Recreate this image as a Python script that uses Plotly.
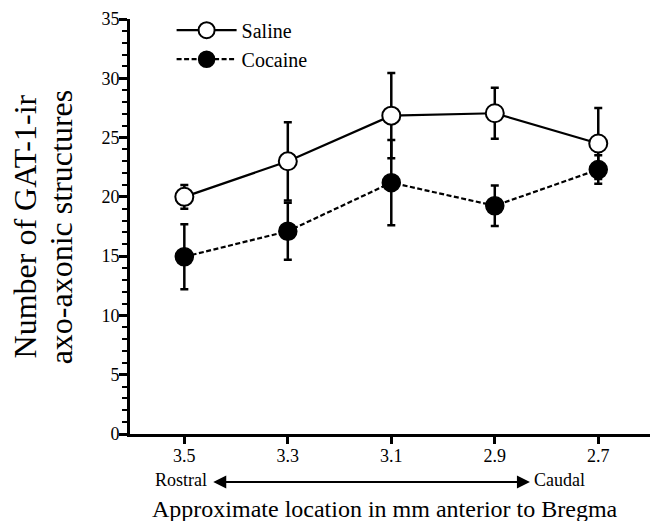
import plotly.graph_objects as go

locations = [3.5, 3.3, 3.1, 2.9, 2.7]
tick_labels = ["3.5", "3.3", "3.1", "2.9", "2.7"]
saline_mean = [20.0, 23.0, 26.85, 27.05, 24.5]
saline_err = [1.0, 3.3, 3.6, 2.15, 3.0]
cocaine_mean = [14.95, 17.1, 21.2, 19.25, 22.3]
cocaine_err = [2.75, 2.4, 3.6, 1.7, 1.2]
y_title_lines = ["Number of GAT-1-ir", "axo-axonic structures"]
x_title = "Approximate location in mm anterior to Bregma"

FONT = "Liberation Serif"

fig = go.Figure()
fig.add_trace(go.Scatter(
    x=locations, y=cocaine_mean, name="Cocaine", mode="lines+markers",
    line=dict(color="black", width=2.2, dash="5px,2.5px"),
    marker=dict(symbol="circle", size=18, color="black", line=dict(color="black", width=1.5)),
    error_y=dict(type="data", array=cocaine_err, visible=True, color="black", thickness=2.5, width=4),
    legendrank=2,
))
fig.add_trace(go.Scatter(
    x=locations, y=saline_mean, name="Saline", mode="lines+markers",
    line=dict(color="black", width=2.2),
    marker=dict(symbol="circle", size=18, color="white", line=dict(color="black", width=2)),
    error_y=dict(type="data", array=saline_err, visible=True, color="black", thickness=2.5, width=4),
    legendrank=1,
))

fig.update_layout(
    width=653, height=521,
    margin=dict(l=130, r=3, t=19, b=87),
    paper_bgcolor="white", plot_bgcolor="white",
    font=dict(family=FONT, color="black"),
    showlegend=True,
    legend=dict(x=0.08, y=1.02, xanchor="left", yanchor="top",
                font=dict(size=20, family=FONT), bgcolor="rgba(0,0,0,0)",
                itemwidth=60, tracegroupgap=0),
    xaxis=dict(range=[3.605, 2.6], tickvals=locations, ticktext=tick_labels,
               showline=True, linecolor="black", linewidth=3,
               ticks="outside", ticklen=7, tickwidth=2.5, tickcolor="black",
               ticklabelstandoff=-4,
               showgrid=False, zeroline=False, automargin=False,
               tickfont=dict(size=18, family=FONT)),
    yaxis=dict(range=[0, 35], tickvals=[0, 5, 10, 15, 20, 25, 30, 35],
               showline=True, linecolor="black", linewidth=3,
               ticks="outside", ticklen=8, tickwidth=2.5, tickcolor="black",
               ticklabelstandoff=-4,
               minor=dict(dtick=1, ticks="outside", ticklen=5, tickwidth=2, tickcolor="black"),
               showgrid=False, zeroline=False, automargin=False,
               tickfont=dict(size=18, family=FONT)),
)

# y-axis title (two lines)
for xp, line in zip([-0.202, -0.133], y_title_lines):
    fig.add_annotation(x=xp, y=0.5, xref="paper", yref="paper", text=line,
                       textangle=-90, showarrow=False, xanchor="center", yanchor="middle",
                       font=dict(size=32, family=FONT))

# x-axis title
fig.add_annotation(x=0.5, y=-0.181, xref="paper", yref="paper", text=x_title,
                   showarrow=False, xanchor="center", yanchor="middle",
                   xshift=-5, font=dict(size=24, family=FONT))

# Rostral <-> Caudal arrow
fig.add_annotation(x=2.832, y=-0.1157, ax=3.447, ay=0, xref="x", yref="paper",
                   axref="x", ayref="pixel",
                   text="", showarrow=True, arrowhead=2, arrowside="end+start",
                   arrowsize=1.3, arrowwidth=2, arrowcolor="black")
fig.add_annotation(x=3.506, y=-0.111, xref="x", yref="paper", text="Rostral",
                   showarrow=False, xanchor="center", yanchor="middle",
                   font=dict(size=18, family=FONT))
fig.add_annotation(x=2.774, y=-0.111, xref="x", yref="paper", text="Caudal",
                   showarrow=False, xanchor="center", yanchor="middle",
                   font=dict(size=18, family=FONT))

fig.write_html("out.html", config={"displayModeBar": False},
               post_script="document.body.style.margin='0';document.body.style.overflow='hidden';")
